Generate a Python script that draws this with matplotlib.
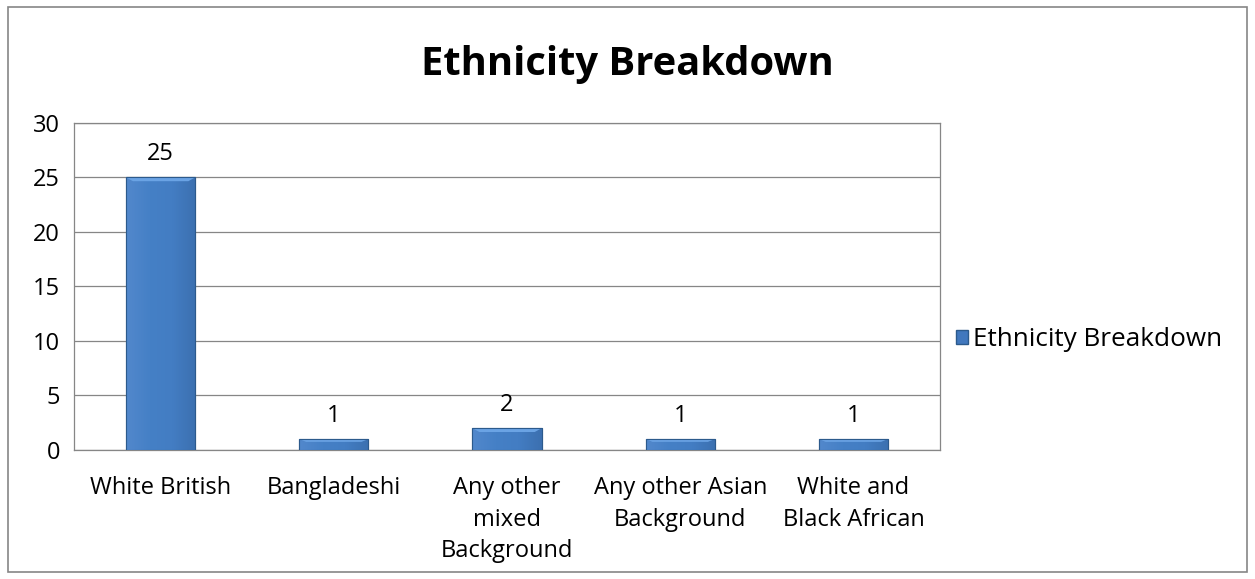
import matplotlib.pyplot as plt
import matplotlib.patches as mpatches
import numpy as np

categories = ['White British', 'Bangladeshi', 'Any other\nmixed\nBackground',
              'Any other Asian\nBackground', 'White and\nBlack African']
counts = [25, 1, 2, 1, 1]
series_name = 'Ethnicity Breakdown'
y_ticks = [0, 5, 10, 15, 20, 25, 30]

plt.rcParams['font.family'] = ['Open Sans', 'DejaVu Sans']

fig = plt.figure(figsize=(12.55, 5.79), dpi=100)
# outer chart border
fig.patches.append(mpatches.Rectangle((0.006, 0.012), 0.988, 0.976, transform=fig.transFigure,
                                      fill=False, edgecolor='#868686', linewidth=1.2))

ax = fig.add_axes([0.059, 0.2228, 0.69, 0.565])
x = np.arange(len(categories))
bars = ax.bar(x, counts, width=0.4, color='#4178be', edgecolor='#2c5a8c', linewidth=0.8,
              zorder=3, label=series_name)

# subtle shading inside each bar for the bevelled look
grad = np.linspace(0, 1, 64).reshape(1, -1)
grad = np.vstack([grad] * 2)
cmap = plt.matplotlib.colors.LinearSegmentedColormap.from_list(
    'bev', ['#5288cc', '#4580c6', '#437dc3', '#3c70b0'])
for b in bars:
    bx, by, bw, bh = b.get_x(), b.get_y(), b.get_width(), b.get_height()
    im = ax.imshow(grad, extent=[bx, bx + bw, by, by + bh], aspect='auto', cmap=cmap,
                   zorder=3.5, interpolation='bicubic')
    im.set_clip_path(b)
    # lighter top bevel
    top = min(0.35, bh * 0.25)
    ax.add_patch(mpatches.Polygon([[bx, by + bh], [bx + bw, by + bh],
                                   [bx + bw * 0.9, by + bh - top], [bx + bw * 0.1, by + bh - top]],
                                  closed=True, color='#6aa3e4', zorder=4, linewidth=0))
    ax.add_patch(mpatches.Rectangle((bx, by), bw, bh, fill=False, edgecolor='#2c5a8c',
                                    linewidth=0.8, zorder=5))

ax.bar_label(bars, labels=[str(c) for c in counts], padding=8, fontsize=17, color='#000000')

ax.set_xlim(-0.5, len(categories) - 0.5)
ax.set_ylim(0, 30)
ax.set_yticks(y_ticks)
ax.set_xticks(x)
ax.set_xticklabels(categories, fontsize=17, linespacing=1.4)
ax.tick_params(axis='y', labelsize=17, length=0, pad=10)
ax.tick_params(axis='x', length=0, pad=19)
ax.grid(axis='y', color='#868686', linewidth=0.9, zorder=0)
for s in ax.spines.values():
    s.set_color('#868686')
    s.set_linewidth(0.9)

fig.text(0.5, 0.889, 'Ethnicity Breakdown', ha='center', va='center', fontsize=28.7,
         fontweight='bold')

fig.legend(handles=[mpatches.Patch(facecolor='#4178be', edgecolor='#2c5a8c', label=series_name)],
           loc='center left', bbox_to_anchor=(0.743, 0.413), frameon=False, fontsize=18.8,
           handlelength=0.45, handleheight=0.45, handletextpad=0.2)

plt.savefig('out.png', dpi=100)
